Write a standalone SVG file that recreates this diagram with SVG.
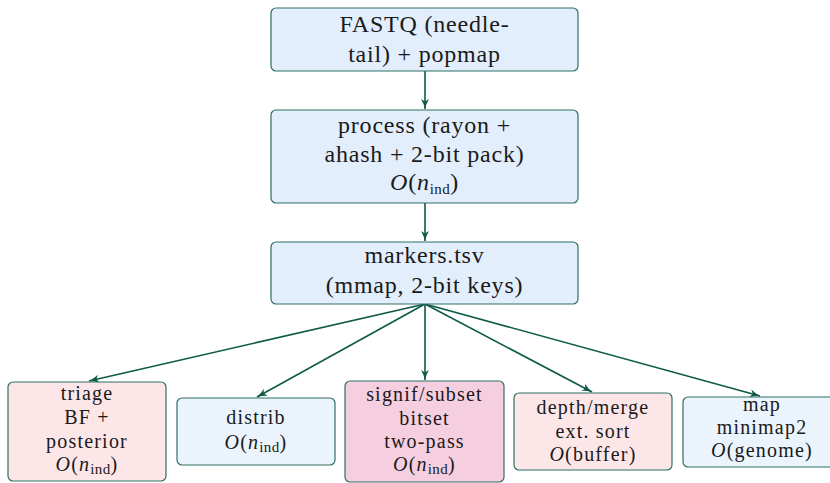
<svg xmlns="http://www.w3.org/2000/svg" width="830" height="483" viewBox="0 0 830 483" font-family="Liberation Serif, DejaVu Serif, serif">
<style>
.box{stroke:#2f6f62;stroke-width:1.2}
.top{fill:#e3eefc}
.blue{fill:#ebf4fd}
.pink{fill:#fde6e8}
.mag{fill:#f5cee0}
text{font-family:'Liberation Serif','DejaVu Serif',serif;font-size:24px;fill:#1a1a1a;text-anchor:middle;letter-spacing:0.8px}
.sm{font-size:20px;letter-spacing:1.2px}
.it{font-style:italic}
.sub{font-size:15px;letter-spacing:0.4px}
.arr{stroke:#0e5a48;stroke-width:1.6;fill:none;marker-end:url(#ah)}
</style>
<defs>
<marker id="ah" markerUnits="userSpaceOnUse" markerWidth="12" markerHeight="10" refX="10" refY="5" orient="auto">
<path d="M0,1 Q5,4 10,5 Q5,6 0,9 L2.5,5 Z" fill="#0e5a48"/>
</marker>
</defs>
<g id="connectors">
<line class="arr" x1="425" y1="71" x2="425" y2="109"/>
<line class="arr" x1="425" y1="203" x2="425" y2="241"/>
<line class="arr" x1="425" y1="304" x2="89" y2="381"/>
<line class="arr" x1="425" y1="304" x2="257" y2="397"/>
<line class="arr" x1="425" y1="304" x2="425" y2="380"/>
<line class="arr" x1="425" y1="304" x2="592" y2="392"/>
<line class="arr" x1="425" y1="304" x2="760" y2="396"/>
</g>
<g id="fastq">
<rect class="box top" x="271" y="8" width="307" height="63" rx="5"/>
<text x="424.5" y="32">FASTQ (needle-</text>
<text x="424.5" y="62">tail) + popmap</text>
</g>
<g id="process">
<rect class="box top" x="271" y="110" width="307" height="93" rx="5"/>
<text x="424.5" y="133">process (rayon +</text>
<text x="424.5" y="162">ahash + 2-bit pack)</text>
<text x="424.5" y="190"><tspan class="it">O</tspan>(<tspan class="it">n</tspan><tspan class="sub" dy="4">ind</tspan><tspan dy="-4">)</tspan></text>
</g>
<g id="markers">
<rect class="box top" x="271" y="242" width="307" height="62" rx="5"/>
<text x="424.5" y="263">markers.tsv</text>
<text x="424.5" y="293">(mmap, 2-bit keys)</text>
</g>
<g id="triage">
<rect class="box pink" x="8" y="382" width="158" height="99" rx="5"/>
<text class="sm" x="87" y="400">triage</text>
<text class="sm" x="87" y="424">BF +</text>
<text class="sm" x="87" y="448">posterior</text>
<text class="sm" x="87" y="471"><tspan class="it">O</tspan>(<tspan class="it">n</tspan><tspan class="sub" dy="3">ind</tspan><tspan dy="-3">)</tspan></text>
</g>
<g id="distrib">
<rect class="box blue" x="177" y="398" width="158" height="67" rx="5"/>
<text class="sm" x="256" y="424">distrib</text>
<text class="sm" x="256" y="449"><tspan class="it">O</tspan>(<tspan class="it">n</tspan><tspan class="sub" dy="3">ind</tspan><tspan dy="-3">)</tspan></text>
</g>
<g id="signif">
<rect class="box mag" x="345" y="381" width="159" height="101" rx="5"/>
<text class="sm" x="424.5" y="401">signif/subset</text>
<text class="sm" x="424.5" y="425">bitset</text>
<text class="sm" x="424.5" y="448">two-pass</text>
<text class="sm" x="424.5" y="471"><tspan class="it">O</tspan>(<tspan class="it">n</tspan><tspan class="sub" dy="3">ind</tspan><tspan dy="-3">)</tspan></text>
</g>
<g id="depth">
<rect class="box pink" x="514" y="393" width="158" height="77" rx="5"/>
<text class="sm" x="593" y="414">depth/merge</text>
<text class="sm" x="593" y="438">ext. sort</text>
<text class="sm" x="593" y="461"><tspan class="it">O</tspan>(buffer)</text>
</g>
<g id="map">
<rect class="box blue" x="683" y="397" width="158" height="70" rx="5"/>
<text class="sm" x="762" y="411">map</text>
<text class="sm" x="762" y="434">minimap2</text>
<text class="sm" x="762" y="457"><tspan class="it">O</tspan>(genome)</text>
</g>
</svg>
